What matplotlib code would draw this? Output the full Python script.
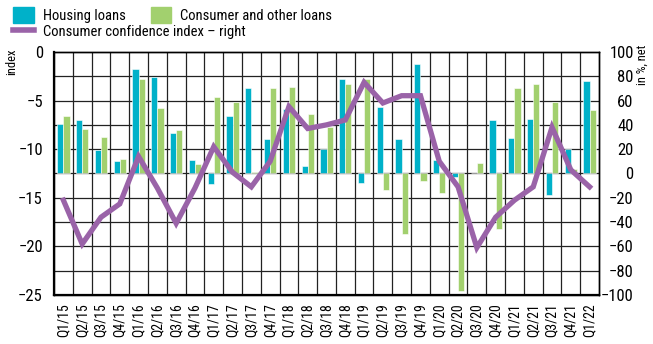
import matplotlib
matplotlib.use("Agg")
import matplotlib.pyplot as plt
from matplotlib.lines import Line2D
from matplotlib.patches import Patch
import numpy as np

plt.rcParams['font.family'] = ['Roboto Condensed', 'Archivo Narrow', 'DejaVu Sans']

# quarters Q1/15 .. Q1/22
quarters = [f"Q{q}/{y}" for y in range(15, 23) for q in range(1, 5)][:29]

# credit standards, in %, net
housing = [41, 44, 19, 10, 86, 79, 33, 11, -9, 47,
           70, 28, 53, 6, 20, 78, -8, 55, 28, 90,
           11, -3, 0, 44, 29, 45, -18, 20, 76]
consumer = [47, 37, 30, 12, 78, 54, 36, 8, 63, 59,
            1, 70, 71, 49, 38, 74, 78, -14, -50, -6,
            -16, -97, 9, -46, 70, 74, 59, 4, 52]

# consumer confidence index
confidence = [-22, -58, -36, -25, 14, -12, -41, -12, 22, 1,
              -11, 10, 55, 37, 40, 44, 75, 58, 64, 64,
              10, -11, -61, -36, -22, -11, 38, 3, -11]

teal = '#00b1c9'
green = '#a2d06e'
purple = '#9a63a8'

fig = plt.figure(figsize=(6.53, 3.44), dpi=100)
ax = fig.add_axes([0.0827, 0.1424, 0.8346, 0.7066])
ax2 = ax.twinx()

x = np.arange(len(quarters))
w = 0.33
ax2.bar(x - w / 2, housing, width=w, color=teal, edgecolor='white', linewidth=0.4, zorder=2)
ax2.bar(x + w / 2, consumer, width=w, color=green, edgecolor='white', linewidth=0.4, zorder=2)
ax2.plot(x, confidence, color=purple, linewidth=3.8, solid_joinstyle='miter', zorder=3)

ax.set_xlim(-0.5, len(quarters) - 0.5)
ax.set_ylim(-25, 0)
ax2.set_ylim(-100, 100)
ax.set_yticks(np.arange(-25, 1, 5))
ax2.set_yticks(np.arange(-100, 101, 20))

# grid: quarter boundaries and every 2.5 index points
for b in np.arange(0.5, len(quarters) - 0.5, 1):
    ax.axvline(b, color='#222222', linewidth=0.9, zorder=0)
for h in np.arange(-22.5, 0, 2.5):
    ax.axhline(h, color='#222222', linewidth=0.9, zorder=0)

ax.set_xticks(x)
ax.set_xticklabels(quarters, rotation=90, fontsize=10)
ax.tick_params(axis='x', length=0, pad=6)
ax.tick_params(axis='y', length=0, pad=8, labelsize=12)
ax2.tick_params(axis='y', length=0, pad=25, labelsize=12)
for lab in ax2.get_yticklabels():
    lab.set_horizontalalignment('right')

for a in (ax, ax2):
    for s in a.spines.values():
        s.set_color('black')
        s.set_linewidth(1.0)
ax.spines['left'].set_linewidth(1.6)
ax.spines['bottom'].set_linewidth(1.6)

fig.text(0.018, 0.82, 'index', rotation=90, fontsize=9, ha='center', va='center')
fig.text(0.983, 0.81, 'in %, net', rotation=90, fontsize=9, ha='center', va='center')

handles = [Patch(color=teal), Line2D([0], [0], color=purple, linewidth=4),
           Patch(color=green)]
labels = ['Housing loans', 'Consumer confidence index – right',
          'Consumer and other loans']
fig.legend(handles, labels, ncol=2, loc='upper left', bbox_to_anchor=(0.005, 1.01),
           frameon=False, fontsize=10.5, handlelength=1.4, handleheight=1.3,
           handletextpad=0.6, columnspacing=-6.5, labelspacing=0.05, borderaxespad=0.3)

fig.savefig('out.png', dpi=100)
